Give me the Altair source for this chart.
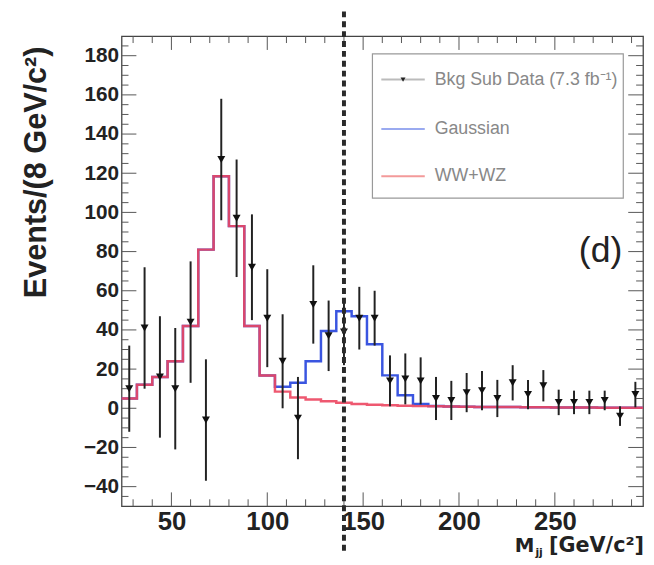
import altair as alt
import pandas as pd

FONT = "Liberation Sans"

# ---- data ----
bin_low = list(range(24, 296, 8))          # 34 bins of 8 GeV/c^2
bin_center = [b + 4 for b in bin_low]
x_edge_end = 296

data_vals = [10, 41, 16, 10, 44, -6, 127, 97, 72, 46,
             24, -5, 53, 37, 39, 46, 46, 14, 15, 14,
             5, 4, 8, 9, 5, 13, 7, 11.5, 3, 3,
             3, 4, -4, 7]
data_errs = [22, 31, 31, 31, 31, 31, 31, 30, 27, 25,
             24, 21, 20, 18, 17, 16, 14, 13, 13, 12,
             11, 10, 10, 10, 9.5, 9, 7.5, 8, 6.5, 6,
             6, 5, 5, 6.5]
ww_wz = [5, 12, 16, 24, 42, 81, 118.5, 93, 42, 16.7,
         8.5, 5.5, 4.5, 3.6, 2.8, 2.2, 1.8, 1.5, 1.3, 1.1,
         1.0, 0.9, 0.8, 0.7, 0.6, 0.6, 0.5, 0.5, 0.4, 0.4,
         0.4, 0.3, 0.3, 0.3]
gaussian = [5, 12, 16, 24, 42, 81, 118.5, 93, 42, 16.7,
            11, 13, 24, 39.5, 49.5, 47, 32.7, 16.8, 6.6, 2.2,
            1.2, 0.9, 0.8, 0.7, 0.6, 0.6, 0.5, 0.5, 0.4, 0.4,
            0.4, 0.3, 0.3, 0.3]
signal_mass = [140]

x_major = [50, 100, 150, 200, 250]
x_minor = [v for v in range(30, 300, 10) if v % 50]
y_major = list(range(-40, 181, 20))
y_minor = [v for v in range(-45, 190, 5) if v % 20]

legend_labels = ["Bkg Sub Data (7.3 fb\u207b\u00b9)", "Gaussian", "WW+WZ"]

# ---- geometry ----
W, H = 528, 476

xs = alt.Scale(domain=[24, 296], nice=False, zero=False)
ys = alt.Scale(domain=[-50, 190], nice=False, zero=False)
xaxis = alt.Axis(values=x_major, labelFontSize=26, labelFont=FONT, labelFontWeight="bold",
                 labelColor="#222", ticks=False, tickSize=0, domain=False, grid=False,
                 title=None, labelPadding=3, labelFlush=False)
yaxis = alt.Axis(values=y_major, labelFontSize=21, labelFont=FONT, labelFontWeight="bold",
                 labelColor="#222", ticks=False, tickSize=0, domain=False, grid=False,
                 title=None, labelPadding=3, labelFlush=False)


def X(f):
    return alt.X(f, type="quantitative", scale=xs, axis=xaxis)


def Y(f):
    return alt.Y(f, type="quantitative", scale=ys, axis=yaxis)


def step_df(vals):
    return pd.DataFrame({"x": bin_low + [x_edge_end], "y": vals + [vals[-1]]})


df = pd.DataFrame({"m": bin_center, "v": data_vals})
df["lo"] = df["v"] - pd.Series(data_errs)
df["hi"] = df["v"] + pd.Series(data_errs)

one = alt.Data(values=[{}])

layers = []

# tick marks (inward, on all four sides)
tick_col = "#555"
xt_major = pd.DataFrame({"t": x_major})
xt_minor = pd.DataFrame({"t": x_minor})
yt_major = pd.DataFrame({"t": y_major})
yt_minor = pd.DataFrame({"t": y_minor})
for d, ln in ((xt_major, 14), (xt_minor, 7)):
    layers.append(alt.Chart(d).mark_rule(color=tick_col, strokeWidth=1).encode(
        x=X("t"), y=alt.value(H), y2=alt.value(H - ln)))
    layers.append(alt.Chart(d).mark_rule(color=tick_col, strokeWidth=1).encode(
        x=X("t"), y=alt.value(0), y2=alt.value(ln)))
for d, ln in ((yt_major, 15), (yt_minor, 7)):
    layers.append(alt.Chart(d).mark_rule(color=tick_col, strokeWidth=1).encode(
        y=Y("t"), x=alt.value(0), x2=alt.value(ln)))
    layers.append(alt.Chart(d).mark_rule(color=tick_col, strokeWidth=1).encode(
        y=Y("t"), x=alt.value(W), x2=alt.value(W - ln)))

# histograms
layers.append(alt.Chart(step_df(gaussian)).mark_line(
    interpolate="step-after", color="#3a55e0", strokeWidth=2.5).encode(x=X("x"), y=Y("y")))
layers.append(alt.Chart(step_df(ww_wz)).mark_line(
    interpolate="step-after", color="#ec4660", strokeWidth=2.5, opacity=0.9).encode(x=X("x"), y=Y("y")))

# data with error bars
layers.append(alt.Chart(df).mark_rule(color="#222", strokeWidth=2).encode(
    x=X("m"), y=Y("lo"), y2=alt.Y2("hi")))
layers.append(alt.Chart(df).mark_point(shape="triangle-down", filled=True, size=65,
                                       color="#111", opacity=1).encode(x=X("m"), y=Y("v")))

# dashed signal line (extends beyond frame)
layers.append(alt.Chart(pd.DataFrame({"m": signal_mass})).mark_rule(
    color="#2a2a2a", strokeWidth=4, strokeDash=[6, 4]).encode(
    x=X("m"), y=alt.value(-25), y2=alt.value(H + 48)))

# legend box
layers.append(alt.Chart(one).mark_rect(fill="white", stroke="#999", strokeWidth=1.2).encode(
    x=alt.value(254), x2=alt.value(508), y=alt.value(18), y2=alt.value(164)))
leg_rows = [44, 94, 142]
leg_colors = ["#bbbbbb", "#9aaaf0", "#f39a9a"]
for lbl, ry, col in zip(legend_labels, leg_rows, leg_colors):
    layers.append(alt.Chart(one).mark_rule(color=col, strokeWidth=2).encode(
        x=alt.value(263), x2=alt.value(307), y=alt.value(ry)))
    layers.append(alt.Chart(one).mark_text(text=lbl, font=FONT, fontSize=18, color="#888",
                                           align="left", baseline="middle").encode(
        x=alt.value(317), y=alt.value(ry)))
layers.append(alt.Chart(one).mark_point(shape="triangle-down", filled=True, size=25,
                                        color="#222", opacity=1).encode(
    x=alt.value(285), y=alt.value(leg_rows[0])))

# panel label
layers.append(alt.Chart(one).mark_text(text="(d)", font=FONT, fontSize=36, color="#222",
                                       align="center", baseline="middle").encode(
    x=alt.value(485), y=alt.value(218)))

# axis titles
layers.append(alt.Chart(one).mark_text(text="Events/(8 GeV/c\u00b2)", font=FONT, fontSize=31,
                                       fontWeight="bold", color="#222", angle=270,
                                       align="center", baseline="middle").encode(
    x=alt.value(-86), y=alt.value(138)))
layers.append(alt.Chart(one).mark_text(text="M", font="DejaVu Sans", fontSize=20, fontWeight="bold",
                                       color="#222", align="left", baseline="alphabetic").encode(
    x=alt.value(398), y=alt.value(522)))
layers.append(alt.Chart(one).mark_text(text="jj", font="DejaVu Sans", fontSize=11, fontWeight="bold",
                                       color="#222", align="left", baseline="alphabetic").encode(
    x=alt.value(419), y=alt.value(526)))
layers.append(alt.Chart(one).mark_text(text="[GeV/c\u00b2]", font="DejaVu Sans", fontSize=21,
                                       fontWeight="bold", color="#222", align="right",
                                       baseline="alphabetic").encode(
    x=alt.value(529), y=alt.value(522)))

chart = alt.layer(*layers).properties(
    width=W, height=H, autosize="none",
    padding={"left": 115, "top": 25, "right": 3, "bottom": 52},
    background="white",
).configure_view(stroke="#444", strokeWidth=1.3)

chart.save("out.html", embed_options={"renderer": "svg", "actions": False})
